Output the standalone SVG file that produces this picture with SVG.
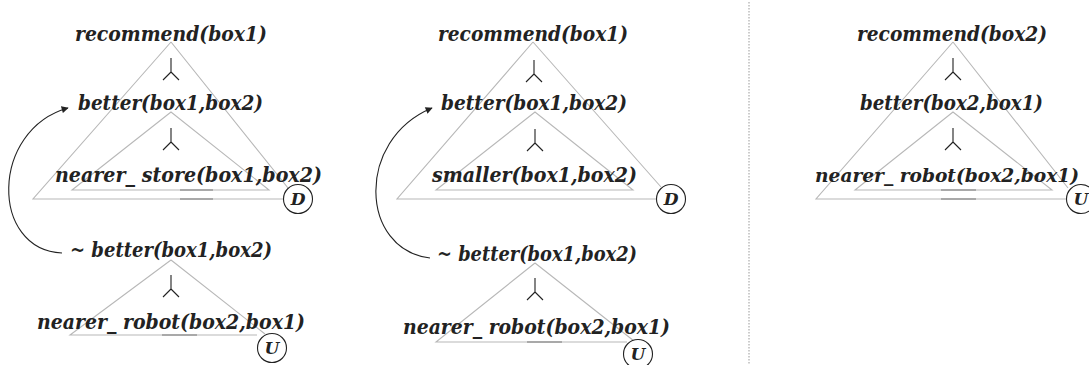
<svg xmlns="http://www.w3.org/2000/svg" width="1089" height="365" viewBox="0 0 1089 365">
<style>
.t{font-family:"DejaVu Serif","Liberation Serif",serif;font-style:italic;font-weight:bold;font-size:20px;fill:#222}
.tri{fill:none;stroke:#b8b8b8;stroke-width:1.1}
.dk{stroke:#999;stroke-width:1.6}
.and{fill:none;stroke:#222;stroke-width:1.1}
.c{fill:#fff;stroke:#222;stroke-width:1.1}
.cl{font-family:"DejaVu Serif","Liberation Serif",serif;font-style:italic;font-weight:bold;font-size:17px;fill:#222;text-anchor:middle}
.arc{fill:none;stroke:#222;stroke-width:1.1}
</style>
<defs>
<marker id="ah" viewBox="0 0 10 10" refX="9" refY="5" markerWidth="8" markerHeight="7" orient="auto" markerUnits="userSpaceOnUse">
<path d="M0,0 L10,5 L0,10 Z" fill="#222"/>
</marker>
<path id="andsym" d="M0,0 V14 M0,14 L-8,22 M0,14 L8,22" class="and"/>
</defs>

<g id="panel1">
<g id="p1-tri">
<path class="tri" d="M171,42 L33,199 L284,199 M171,42 L288,188"/>
<path class="tri" d="M171,112 L72,190 L269,190 Z"/>
<line class="dk" x1="180" y1="190" x2="213" y2="190"/>
<line class="dk" x1="180" y1="199" x2="213" y2="199"/>
<path class="tri" d="M171,260 L70,335 L257,335 M171,260 L265,334"/>
<line class="dk" x1="162" y1="335" x2="197" y2="335"/>
</g>
<g id="p1-recommend"><text class="t" x="75" y="41" textLength="192" lengthAdjust="spacingAndGlyphs">recommend(box1)</text></g>
<use href="#andsym" x="171" y="58"/>
<g id="p1-better"><text class="t" x="78" y="110" textLength="185" lengthAdjust="spacingAndGlyphs">better(box1,box2)</text></g>
<use href="#andsym" x="171" y="128"/>
<g id="p1-nearer-store"><text class="t" x="55" y="182" textLength="267" lengthAdjust="spacingAndGlyphs">nearer_ store(box1,box2)</text></g>
<g id="p1-D"><circle class="c" cx="298" cy="199" r="14.5"/><text class="cl" x="298" y="205">D</text></g>
<g id="p1-notbetter"><text class="t" x="70" y="257" textLength="202" lengthAdjust="spacingAndGlyphs">~ better(box1,box2)</text></g>
<use href="#andsym" x="171" y="275"/>
<g id="p1-nearer-robot"><text class="t" x="37" y="329" textLength="268" lengthAdjust="spacingAndGlyphs">nearer_ robot(box2,box1)</text></g>
<g id="p1-U"><circle class="c" cx="272" cy="348" r="14.5"/><text class="cl" x="272" y="354">U</text></g>
</g>

<g id="panel2">
<g id="p2-tri">
<path class="tri" d="M533,42 L397,199 L656,199 M533,42 L661,187"/>
<path class="tri" d="M535,112 L436,190 L633,190 Z"/>
<path class="tri" d="M535,263 L436,342 L627,342 M535,263 L634,341"/>
<line class="dk" x1="527" y1="342" x2="562" y2="342"/>
</g>
<g id="p2-recommend"><text class="t" x="438" y="41" textLength="190" lengthAdjust="spacingAndGlyphs">recommend(box1)</text></g>
<use href="#andsym" x="534" y="60"/>
<g id="p2-better"><text class="t" x="441" y="110" textLength="186" lengthAdjust="spacingAndGlyphs">better(box1,box2)</text></g>
<use href="#andsym" x="535" y="129"/>
<g id="p2-smaller"><text class="t" x="432" y="182" textLength="205" lengthAdjust="spacingAndGlyphs">smaller(box1,box2)</text></g>
<g id="p2-D"><circle class="c" cx="671" cy="199" r="14.5"/><text class="cl" x="671" y="205">D</text></g>
<g id="p2-notbetter"><text class="t" x="437" y="261" textLength="200" lengthAdjust="spacingAndGlyphs">~ better(box1,box2)</text></g>
<use href="#andsym" x="535" y="278"/>
<g id="p2-nearer-robot"><text class="t" x="403" y="334" textLength="267" lengthAdjust="spacingAndGlyphs">nearer_ robot(box2,box1)</text></g>
<g id="p2-U"><circle class="c" cx="638" cy="354" r="14.5"/><text class="cl" x="638" y="360">U</text></g>
</g>

<g id="divider">
<line x1="749" y1="2" x2="749" y2="365" stroke="#999" stroke-width="1" stroke-dasharray="1.5,1.5"/>
</g>

<g id="panel3">
<g id="p3-tri">
<path class="tri" d="M953,42 L816,199 L1066,199 M953,42 L1068,188"/>
<path class="tri" d="M953,112 L855,190 L1052,190 Z"/>
<line class="dk" x1="941" y1="190" x2="976" y2="190"/>
<line class="dk" x1="941" y1="199" x2="976" y2="199"/>
</g>
<g id="p3-recommend"><text class="t" x="857" y="41" textLength="190" lengthAdjust="spacingAndGlyphs">recommend(box2)</text></g>
<use href="#andsym" x="953" y="58"/>
<g id="p3-better"><text class="t" x="860" y="110" textLength="183" lengthAdjust="spacingAndGlyphs">better(box2,box1)</text></g>
<use href="#andsym" x="953" y="128"/>
<g id="p3-nearer-robot"><text class="t" x="815" y="182" style="font-size:18px" textLength="264" lengthAdjust="spacingAndGlyphs">nearer_ robot(box2,box1)</text></g>
<g id="p3-U"><circle class="c" cx="1081" cy="199" r="14.5"/><text class="cl" x="1081" y="205">U</text></g>
</g>

<g id="connectors">
<path class="arc" marker-end="url(#ah)" d="M62,253 C-10,250 -10,130 68,108"/>
<path class="arc" marker-end="url(#ah)" d="M430,258 C360,250 355,140 432,108"/>
</g>
</svg>
